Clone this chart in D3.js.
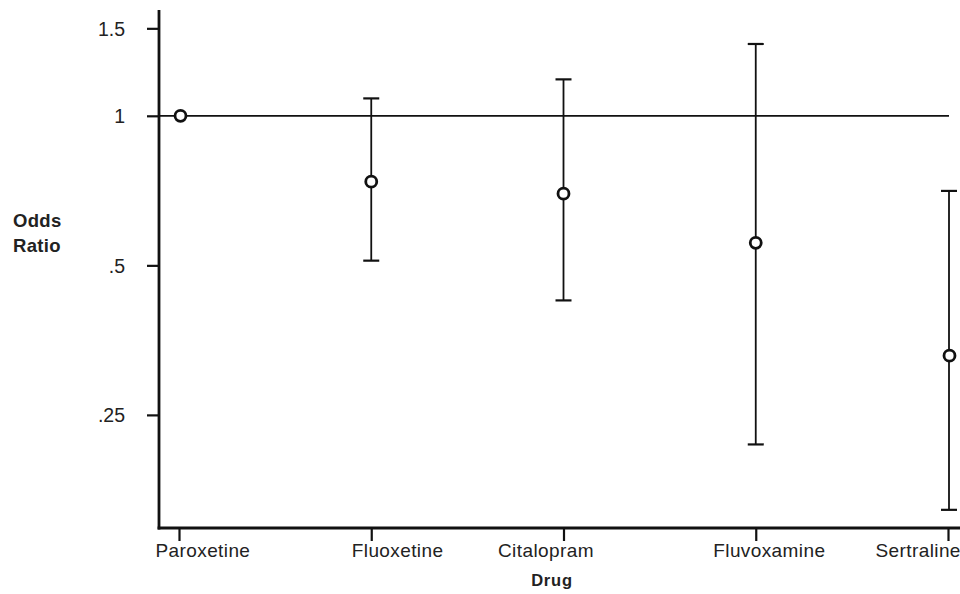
<!DOCTYPE html>
<html><head><meta charset="utf-8">
<script src="https://cdn.jsdelivr.net/npm/d3@7"></script>
<style>
body{margin:0;background:#fff}
text{font-family:Arial,"Liberation Sans",sans-serif;fill:#222}
</style>
</head><body><svg id="c" width="960" height="594"></svg>
<script>
// ---- data ----
const drugs = ["Paroxetine", "Fluoxetine", "Citalopram", "Fluvoxamine", "Sertraline"];
const oddsRatio = [1, 0.737, 0.697, 0.555, 0.329];
const ciLower = [null, 0.511, 0.425, 0.218, 0.161];
const ciUpper = [null, 1.084, 1.184, 1.395, 0.706];
const yTickValues = [0.25, 0.5, 1, 1.5];
const yTickLabels = [".25", ".5", "1", "1.5"];
const referenceOR = 1;

// ---- layout ----
const axisX = 159, axisY = 528, plotTop = 10, plotRight = 960;
const labelStart = [-24, -20, -66, -43, -73]; // label left edge relative to tick

const svg = d3.select("#c");
const x = d3.scalePoint().domain(drugs).range([179, 948]);
const y = d3.scaleLog().domain([0.148, 1.633]).range([axisY, plotTop]);

const rows = drugs.map((d, i) => ({drug: d, or: oddsRatio[i], lo: ciLower[i], hi: ciUpper[i], i}));

// reference line
svg.append("line")
  .attr("x1", axisX).attr("x2", 949)
  .attr("y1", y(referenceOR)).attr("y2", y(referenceOR))
  .attr("stroke", "#111").attr("stroke-width", 1.7);

// error bars
const eb = svg.append("g").attr("stroke", "#111").attr("fill", "none");
rows.filter(r => r.lo != null).forEach(r => {
  const cx = x(r.drug) + (r.i === 4 ? 1 : 0);
  eb.append("line").attr("x1", cx).attr("x2", cx).attr("y1", y(r.hi)).attr("y2", y(r.lo)).attr("stroke-width", 1.8);
  [r.hi, r.lo].forEach(v => {
    eb.append("line").attr("x1", cx - 8).attr("x2", cx + 8).attr("y1", y(v)).attr("y2", y(v)).attr("stroke-width", 2.2);
  });
});

// points
svg.append("g").selectAll("circle").data(rows).join("circle")
  .attr("cx", d => x(d.drug) + (d.i === 0 ? 1.5 : (d.i === 4 ? 1.5 : 0)))
  .attr("cy", d => y(d.or))
  .attr("r", 5.5)
  .attr("fill", "#fff").attr("stroke", "#111").attr("stroke-width", 2.8);

// y axis
const yAxis = svg.append("g").attr("transform", `translate(${axisX},0)`)
  .call(d3.axisLeft(y).tickValues(yTickValues)
    .tickFormat((d) => yTickLabels[yTickValues.indexOf(d)])
    .tickSize(12).tickPadding(22).tickSizeOuter(0));
yAxis.select(".domain").remove();
yAxis.selectAll(".tick line").attr("stroke", "#111").attr("stroke-width", 2.2);
yAxis.selectAll(".tick text").attr("font-size", 19.5).attr("fill", "#222").attr("font-family", "Arial, Liberation Sans, sans-serif").attr("dy", "0.36em");

// x axis
const xAxis = svg.append("g").attr("transform", `translate(0,${axisY})`)
  .call(d3.axisBottom(x).tickSize(13).tickSizeOuter(0));
xAxis.select(".domain").remove();
xAxis.selectAll(".tick line").attr("stroke", "#111").attr("stroke-width", 2.2);
xAxis.selectAll(".tick text")
  .attr("font-size", 19).attr("fill", "#222").attr("font-family", "Arial, Liberation Sans, sans-serif")
  .attr("text-anchor", "start").attr("letter-spacing", 0.4)
  .attr("x", (d) => labelStart[drugs.indexOf(d)])
  .attr("y", 29).attr("dy", 0);

// axis lines
svg.append("line").attr("x1", axisX).attr("x2", axisX).attr("y1", plotTop).attr("y2", axisY + 1.5)
  .attr("stroke", "#111").attr("stroke-width", 2.8);
svg.append("line").attr("x1", axisX - 1.4).attr("x2", plotRight).attr("y1", axisY).attr("y2", axisY)
  .attr("stroke", "#111").attr("stroke-width", 2.8);

// axis titles
svg.append("text").attr("x", 552).attr("y", 586).attr("text-anchor", "middle")
  .attr("font-size", 16.5).attr("font-weight", "bold").attr("letter-spacing", 0.8).text("Drug");
const yt = svg.append("text").attr("font-size", 18.5).attr("font-weight", "bold").attr("letter-spacing", 0.3);
yt.append("tspan").attr("x", 13).attr("y", 227).text("Odds");
yt.append("tspan").attr("x", 13).attr("y", 252).text("Ratio");
</script>
</body></html>
